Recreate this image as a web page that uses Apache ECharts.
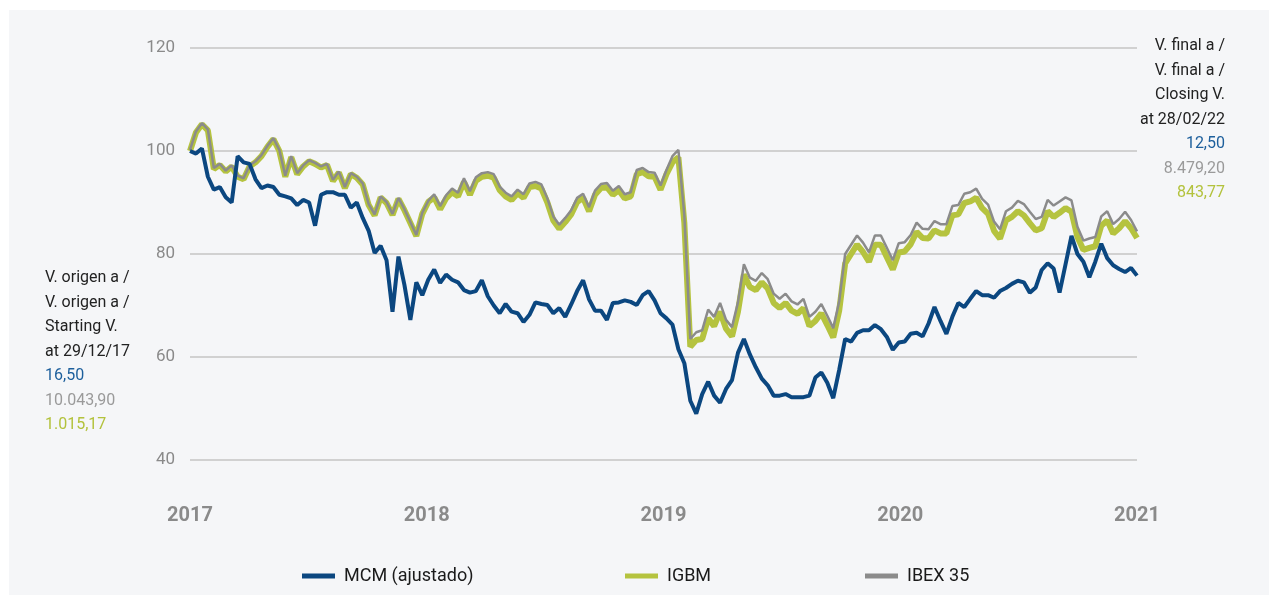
<!DOCTYPE html>
<html>
<head>
<meta charset="utf-8">
<script src="https://cdn.jsdelivr.net/npm/echarts@6/dist/echarts.min.js"></script>
<style>
  body { margin: 0; background: #ffffff; }
  #panel { position: absolute; left: 9px; top: 10px; width: 1260px; height: 585px; background: #f5f6f8; }
  #chart { position: absolute; left: 0; top: 0; width: 1269px; height: 595px; }
</style>
</head>
<body>
<div id="panel"></div>
<div id="chart"></div>
<script>
// etiquetas del eje X (posiciones 0..4)
var yearLabels = ["2017", "2018", "2019", "2020", "2021"];

// base 100 a 29/12/17
var mcm = [
  100, 99.5, 100.5, 95, 92.5, 93, 91, 90, 99, 97.8,
  97.5, 94.5, 92.8, 93.3, 93, 91.5, 91.2, 90.8, 89.5, 90.5,
  90, 85.5, 91.5, 92, 92, 91.5, 91.5, 89, 90, 87,
  84.5, 80.2, 81.6, 78.8, 68.8, 79.5, 74, 67.2, 74.5, 72,
  75, 77, 74.4, 76, 75, 74.5, 73, 72.5, 72.8, 74.9,
  71.8, 70, 68.5, 70.3, 68.8, 68.5, 66.8, 68.2, 70.6, 70.3,
  70.1, 68.5, 69.5, 67.8, 70.2, 72.8, 74.9, 71.2, 69, 69,
  67.2, 70.5, 70.6, 71, 70.7, 70.1, 72, 72.8, 71, 68.5,
  67.5, 66.3, 61.5, 58.8, 51.5, 49, 52.8, 55.2, 52.5, 51.1,
  53.8, 55.5, 60.8, 63.5, 60.5, 58, 55.8, 54.5, 52.5, 52.5,
  52.8, 52.2, 52.2, 52.2, 52.5, 56, 57, 55, 52, 57.5,
  63.5, 63, 64.7, 65.2, 65.2, 66.2, 65.4, 63.9, 61.4, 62.8,
  63, 64.5, 64.7, 64, 66.5, 69.7, 67, 64.5, 67.8, 70.5,
  69.7, 71.3, 72.8, 72, 72, 71.5, 72.8, 73.4, 74.2, 74.8,
  74.5, 72.5, 73.5, 76.9, 78.2, 77.2, 72.5, 78, 83.5, 80,
  78.5, 75.5, 78.5, 82, 79.2, 77.8, 77.1, 76.5, 77.3, 75.8
];

var igbm = [
  100, 103.6, 105.2, 104, 96.5, 97.3, 96, 97, 95, 94.5,
  97, 97.8, 99, 100.8, 102.3, 100, 95, 98.8, 95.5, 97,
  98, 97.5, 96.8, 97.3, 94.2, 95.8, 92.8, 95.5, 94.8, 93.5,
  89.5, 87.5, 91, 89.9, 87.6, 90.7, 88.5, 86, 83.5, 87.8,
  90.1, 91, 88.7, 90.8, 92, 91.2, 94, 91.5, 94.2, 95,
  95.2, 94.8, 92.4, 91.2, 90.5, 91.8, 90.9, 93, 93.2, 92.7,
  90, 86.5, 84.9, 86.2, 87.7, 90.1, 90.9, 88.3, 91.5, 92.8,
  93, 91.5, 92.4, 90.8, 91.2, 95.5, 95.9, 95.1, 95, 92.5,
  95.5, 97.8, 98.8, 86, 62, 63.3, 63.5, 67.5, 66, 68.8,
  65.5, 64, 68.8, 76, 73.6, 73, 74.5, 73.3, 70.5, 69.5,
  70.5, 69, 68.4, 69.5, 66, 67, 68.5, 66.2, 63.8, 69,
  78.2, 80, 81.8, 80.4, 78.5, 81.8, 81.8, 79.4, 77, 80.3,
  80.5, 81.9, 84.3, 83.1, 83, 84.6, 84, 84, 87.5, 87.7,
  89.9, 90.2, 90.9, 88.9, 87.8, 84.5, 83, 86.5, 87.2, 88.3,
  87.5, 86, 84.6, 85, 88.3, 87.2, 88, 88.9, 88.2, 83.3,
  80.8, 81.2, 81.5, 85.5, 86.5, 84, 85, 86.4, 85, 83.1
];

var ibex = [
  100.2, 103.8, 105.4, 104.2, 96.7, 97.5, 96.2, 97.2, 95.2, 94.7,
  97.2, 98, 99.2, 101, 102.5, 100.2, 95.2, 99, 95.7, 97.2,
  98.2, 97.7, 97, 97.5, 94.4, 96, 93, 95.7, 95, 93.7,
  89.7, 87.7, 91.2, 90.1, 87.8, 90.9, 88.7, 86.2, 83.7, 88,
  90.3, 91.6, 89.3, 91.4, 92.7, 91.9, 94.7, 92.2, 94.9, 95.7,
  95.9, 95.5, 93.1, 91.9, 91.2, 92.5, 91.6, 93.7, 94, 93.5,
  90.8, 87.3, 85.7, 87, 88.5, 90.9, 91.7, 89.1, 92.3, 93.6,
  93.8, 92.3, 93.2, 91.6, 92, 96.3, 96.7, 95.9, 95.8, 93.3,
  96.3, 99, 100.2, 87.5, 63.5, 64.8, 65.2, 69.2, 67.8, 70.5,
  67.2, 65.8, 70.6, 78, 75.4, 74.8, 76.3, 75.1, 72.3, 71.3,
  72.3, 70.8, 70.2, 71.3, 67.8, 68.8, 70.3, 68, 65.6, 70.8,
  80, 81.8, 83.6, 82.2, 80.3, 83.6, 83.6, 81.2, 78.8, 82.1,
  82.3, 83.7, 86.1, 84.9, 84.8, 86.4, 85.8, 85.8, 89.3, 89.5,
  91.7, 92, 92.7, 90.7, 89.6, 86.3, 84.8, 88.3, 89, 90.3,
  89.7, 88.2, 86.8, 87.2, 90.5, 89.4, 90.2, 91, 90.4, 85.3,
  82.6, 83, 83.3, 87.3, 88.3, 85.8, 86.8, 88.2, 86.6, 84.4
];

// textos de valores inicial y final
var startLines = ["V. origen a /", "V. origen a /", "Starting V.", "at 29/12/17"];
var startValues = ["16,50", "10.043,90", "1.015,17"];
var endLines = ["V. final a /", "V. final a /", "Closing V.", "at 28/02/22"];
var endValues = ["12,50", "8.479,20", "843,77"];

var FONT = "'Roboto', sans-serif";
var C_MCM = "#0b4780";
var C_IGBM = "#b5c33f";
var C_IBEX = "#8b8b8b";
var valueColors = ["#1d5f9c", "#9a9a9a", "#b3c23c"];

function toPairs(arr) {
  var out = [];
  for (var i = 0; i < arr.length; i++) {
    out.push([i * 4 / (arr.length - 1), arr[i]]);
  }
  return out;
}

var myChart = echarts.init(document.getElementById("chart"));

var graphics = [];
var lineH = 24.5;
for (var i = 0; i < 7; i++) {
  var isVal = i >= 4;
  graphics.push({
    type: "text",
    left: 45,
    top: 270 + i * lineH,
    style: {
      text: isVal ? startValues[i - 4] : startLines[i],
      fill: isVal ? valueColors[i - 4] : "#222222",
      font: "16px " + FONT
    }
  });
  graphics.push({
    type: "text",
    right: 44,
    top: 38 + i * lineH,
    style: {
      text: isVal ? endValues[i - 4] : endLines[i],
      fill: isVal ? valueColors[i - 4] : "#222222",
      font: "16px " + FONT,
      align: "right"
    }
  });
}

// una leyenda por serie para fijar la posicion de cada una
var legendNames = ["MCM (ajustado)", "IGBM", "IBEX 35"];
var legendLeft = [297, 620, 860];
var legends = [];
for (var k = 0; k < legendNames.length; k++) {
  legends.push({
    left: legendLeft[k],
    top: 562,
    itemWidth: 33,
    itemHeight: 5,
    icon: "rect",
    textStyle: { fontFamily: FONT, fontSize: 18, color: "#1a1a1a", padding: [0, 0, 0, 4] },
    data: [legendNames[k]]
  });
}

var option = {
  animation: false,
  backgroundColor: "transparent",
  grid: { left: 190, right: 132, top: 48, bottom: 135, containLabel: false },
  legend: legends,
  xAxis: {
    type: "value",
    min: 0,
    max: 4,
    interval: 1,
    axisLine: { show: false },
    axisTick: { show: false },
    splitLine: { show: false },
    axisLabel: {
      margin: 46,
      color: "#8a8a8a",
      fontFamily: FONT,
      fontWeight: "bold",
      fontSize: 20,
      formatter: function (v) { return yearLabels[Math.round(v)]; }
    }
  },
  yAxis: {
    type: "value",
    min: 40,
    max: 120,
    interval: 20,
    axisLine: { show: false },
    axisTick: { show: false },
    axisLabel: { margin: 15, color: "#8a8a8a", fontFamily: FONT, fontSize: 17 },
    splitLine: { lineStyle: { color: "#c4c4c4", width: 1.5 } }
  },
  graphic: graphics,
  series: [
    {
      name: "IGBM",
      type: "line",
      data: toPairs(igbm),
      symbol: "none",
      z: 2,
      lineStyle: { color: C_IGBM, width: 6 },
      itemStyle: { color: C_IGBM }
    },
    {
      name: "IBEX 35",
      type: "line",
      data: toPairs(ibex),
      symbol: "none",
      z: 3,
      lineStyle: { color: C_IBEX, width: 2.5 },
      itemStyle: { color: C_IBEX }
    },
    {
      name: "MCM (ajustado)",
      type: "line",
      data: toPairs(mcm),
      symbol: "none",
      z: 4,
      lineStyle: { color: C_MCM, width: 4 },
      itemStyle: { color: C_MCM }
    }
  ]
};

myChart.setOption(option);
window.addEventListener("resize", function () {
  myChart.resize();
});
</script>
</body>
</html>
